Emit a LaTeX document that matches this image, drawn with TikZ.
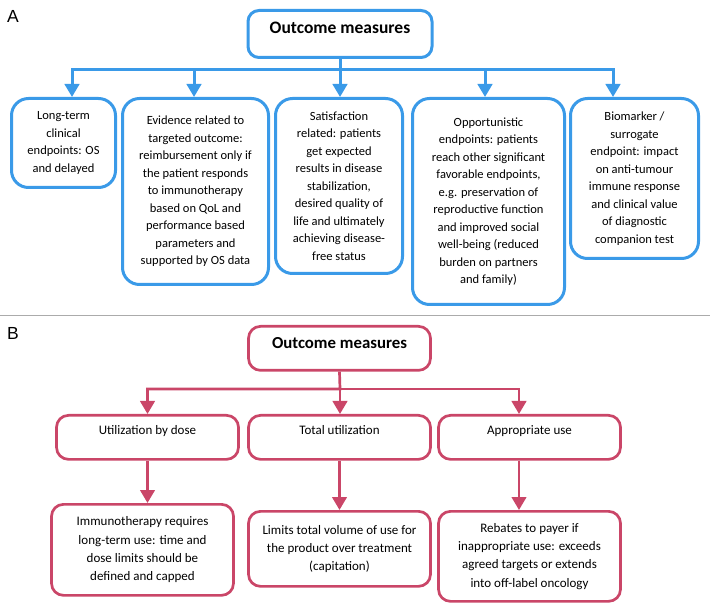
\documentclass[tikz,border=0pt]{standalone}
\usepackage{fontspec}
\setmainfont{Carlito}
\newfontfamily\panelfont{Liberation Sans}
\usetikzlibrary{arrows.meta, positioning, calc}
\definecolor{outblue}{RGB}{58, 154, 232}
\definecolor{outrose}{RGB}{202, 70, 104}

\begin{document}
\begin{tikzpicture}[x=1pt, y=-1pt,
  panel/.style={font=\panelfont\fontsize{17.5}{20}\selectfont, anchor=base west, inner sep=0pt},
  bluebox/.style={draw=outblue, line width=3pt, rounded corners=17pt, anchor=north, align=center, inner sep=0pt, font=\fontsize{12.5}{17.5}\selectfont},
  rosebox/.style={draw=outrose, line width=2.7pt, rounded corners=12pt, anchor=north, align=center, inner sep=0pt, minimum width=182pt, font=\fontsize{13}{18.3}\selectfont},
  headtext/.style={text height=12pt, text depth=12pt},
  bluelink/.style={draw=outblue, line width=3pt, -{Triangle[length=13pt, width=14.5pt]}},
  roselink/.style={draw=outrose, line width=2.7pt, -{Triangle[length=13pt, width=14.5pt]}}]
  \useasboundingbox (0,0) rectangle (710,612);

  % Panel A
  \node[panel] (lblA) at (7,23) {A};
  \node[bluebox, headtext, rounded corners=11pt, minimum width=184pt, minimum height=47pt, font=\fontsize{17.5}{20}\selectfont\bfseries] (topA) at (340,9) {Outcome measures};

  \node[bluebox, minimum width=104pt, minimum height=89pt] (a1) at (63.5,97) {Long-term\\clinical\\endpoints: OS\\and delayed};
  \node[bluebox, minimum width=146pt, minimum height=186pt] (a2) at (195.5,97) {Evidence related to\\targeted outcome:\\reimbursement only if\\the patient responds\\to immunotherapy\\based on QoL and\\performance based\\parameters and\\supported by OS data};
  \node[bluebox, minimum width=127pt, minimum height=175pt] (a3) at (339,97) {Satisfaction\\related: patients\\get expected\\results in disease\\stabilization,\\desired quality of\\life and ultimately\\achieving disease-\\free status};
  \node[bluebox, minimum width=152pt, minimum height=206pt] (a4) at (488.5,97) {Opportunistic\\endpoints: patients\\reach other significant\\favorable endpoints,\\e.g. preservation of\\reproductive function\\and improved social\\well-being (reduced\\burden on partners\\and family)};
  \node[bluebox, minimum width=128pt, minimum height=160pt] (a5) at (634.5,97) {Biomarker /\\surrogate\\endpoint: impact\\on anti-tumour\\immune response\\and clinical value\\of diagnostic\\companion test};

  \coordinate (busA) at (340,70);
  \draw[bluelink] (topA.south) -- (busA) -| ([xshift=8.5pt]a1.north);
  \draw[bluelink] (busA) -| ([xshift=-1.5pt]a2.north);
  \draw[bluelink] (busA) -- (busA |- a3.north);
  \draw[bluelink] (busA) -| ([xshift=-3.5pt]a4.north);
  \draw[bluelink] (busA) -| ([xshift=-21.5pt]a5.north);

  % separator
  \draw[black!33, line width=1pt] (0,316) -- (710,316);

  % Panel B
  \node[panel] (lblB) at (7,340) {B};
  \node[rosebox, headtext, minimum height=44pt, font=\fontsize{16.8}{20}\selectfont\bfseries] (topB) at (339.5,325) {Outcome measures};

  \node[rosebox, minimum height=44pt, text height=9pt, text depth=15pt] (b1) at (147.5,414) {Utilization by dose};
  \node[rosebox, minimum height=44pt, text height=9pt, text depth=15pt] (b2) at (339.5,414) {Total utilization};
  \node[rosebox, minimum height=44pt, text height=9pt, text depth=15pt] (b3) at (529.5,414) {Appropriate use};

  \node[rosebox, minimum height=91pt] (c1) at (142.5,503) {Immunotherapy requires\\long-term use: time and\\dose limits should be\\defined and capped};
  \node[rosebox, minimum height=75pt] (c2) at (339.5,510) {Limits total volume of use for\\the product over treatment\\(capitation)};
  \node[rosebox, minimum height=90pt] (c3) at (529.5,510) {Rebates to payer if\\inappropriate use: exceeds\\agreed targets or extends\\into off-label oncology};

  \coordinate (busB) at (340,389);
  \draw[roselink] (topB.south) -- (busB) -| (b1.north);
  \draw[roselink] (busB) -- (busB |- b2.north);
  \draw[roselink] (busB) -| ([xshift=-10.5pt]b3.north);

  \draw[roselink] (b1.south) -- (b1.south |- c1.north);
  \draw[roselink] (b2.south) -- (b2.south |- c2.north);
  \draw[roselink] ([xshift=-10.5pt]b3.south) -- ([xshift=-10.5pt]b3.south |- c3.north);
\end{tikzpicture}
\end{document}
